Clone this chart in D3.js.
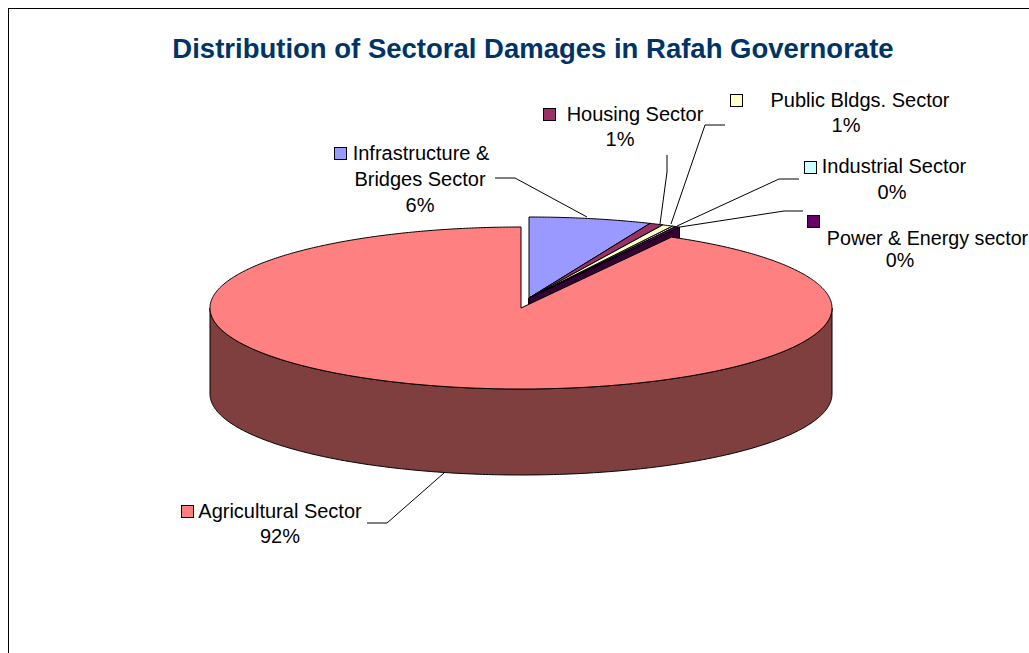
<!DOCTYPE html>
<html><head><meta charset="utf-8">
<script src="https://cdn.jsdelivr.net/npm/d3@7/dist/d3.min.js"></script>
<style>html,body{margin:0;padding:0;background:#fff;overflow:hidden}svg{display:block}text{font-family:"Liberation Sans",Arial,sans-serif;fill:#000}</style>
</head><body><svg id="c" width="1029" height="653"></svg>
<script>
const titleText = "Distribution of Sectoral Damages in Rafah Governorate";
const sectors = ["Infrastructure & Bridges Sector","Housing Sector","Public Bldgs. Sector","Industrial Sector","Power & Energy sector","Agricultural Sector"];
const shares = [6.36, 0.72, 0.56, 0.18, 0.22, 91.96];
const topColors = ["#9999ff","#993366","#ffffcc","#ccffff","#660066","#ff8080"];
const wallColors = ["#4c4c7f","#4c1933","#7f7f66","#667f7f","#330033","#7f3f3f"];

// layout only: label lines, key box and leader elbows for each sector
const labelLayout = [
 {size:20,lines:[["Infrastructure &",421,160],["Bridges Sector",420,186],[null,420,212]],key:[334,147],leader:[[495,178],[515,178],[587,217]]},
 {size:20,lines:[["Housing Sector",635,121],[null,620,146]],key:[543,108],leader:[[667,155],[667,172],[660,224]]},
 {size:20,lines:[["Public Bldgs. Sector",860,107],[null,846,132]],key:[730,94],leader:[[725,125],[705,125],[671,224]]},
 {size:20,lines:[["Industrial Sector",894,173],[null,892,199]],key:[804,161],leader:[[799,179],[779,179],[677,226]]},
 {size:19.7,lines:[["Power & Energy sector",927.5,245],[null,900,267]],key:[807,215],leader:[[803,211],[784,211],[680,227]]},
 {size:20,lines:[["Agricultural Sector",280,518],[null,280,543]],key:[181,505],leader:[[367,523],[387,523],[444,473]]}
];

const svg = d3.select("#c");
svg.append("rect").attr("x",8.5).attr("y",8.5).attr("width",1100).attr("height",800).attr("fill","#fff").attr("stroke","#000");
svg.append("text").attr("x",533).attr("y",58).attr("text-anchor","middle").attr("font-size",27.5).attr("font-weight","bold").style("fill","#003366").text(titleText);

const rx = 311, ry = 81, depth = 86;
const pieAngles = d3.pie().sort(null).value(d=>d)(shares);
const xS = d3.scaleLinear().domain([-1,1]).range([-rx,rx]);
const yS = d3.scaleLinear().domain([-1,1]).range([-ry,ry]);
const pt = (a,c,dz=0)=>[c[0]+xS(Math.sin(a)), c[1]+yS(-Math.cos(a))+dz];
const line = d3.line();
const arcPts = (a0,a1,c,dz=0)=>{const n=Math.max(2,Math.ceil((a1-a0)/0.01));return d3.range(n+1).map(i=>pt(a0+(a1-a0)*i/n,c,dz));};

const mainC=[521,308], explodedC=[529,298];
const g = svg.append("g").attr("stroke","#000").attr("stroke-width",1).attr("stroke-linejoin","round");

function drawSlice(p,i,c){
  const a0=p.startAngle,a1=p.endAngle;
  const w0=Math.max(a0,Math.PI/2), w1=Math.min(a1,Math.PI*1.5);
  if(w1>w0){
    const up=arcPts(w0,w1,c), dn=arcPts(w0,w1,c,depth).reverse();
    g.append("path").attr("d",line(up.concat(dn))+"Z").attr("fill",wallColors[i]);
  }
  if(i<5){
    const o=pt(a1,c);
    g.append("path").attr("d",line([c,o,[o[0],o[1]+depth],[c[0],c[1]+depth]])+"Z").attr("fill",wallColors[i]);
  }
  g.append("path").attr("d",line([c].concat(arcPts(a0,a1,c)))+"Z").attr("fill",topColors[i]);
}
pieAngles.forEach((p,i)=>{ if(i<5) drawSlice(p,i,explodedC); });
drawSlice(pieAngles[5],5,mainC);

const pct=d3.format(".0%");
labelLayout.forEach((L,i)=>{
  svg.append("path").attr("d",line(L.leader)).attr("fill","none").attr("stroke","#000").attr("stroke-width",1);
  svg.append("rect").attr("x",L.key[0]+.5).attr("y",L.key[1]+.5).attr("width",12).attr("height",12).attr("fill",topColors[i]).attr("stroke","#000");
  L.lines.forEach(t=>{
    svg.append("text").attr("x",t[1]).attr("y",t[2]).attr("text-anchor","middle").attr("font-size",L.size)
      .text(t[0]===null?pct(shares[i]/100):t[0]);
  });
});
</script></body></html>
